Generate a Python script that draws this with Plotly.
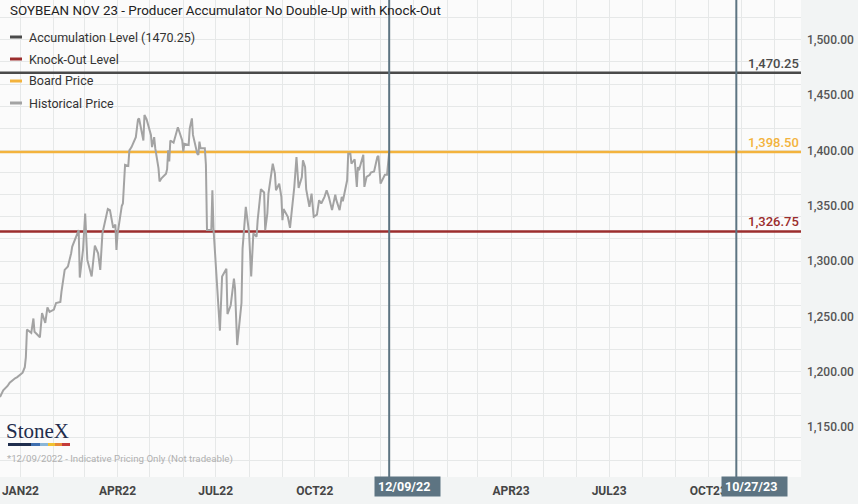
import plotly.graph_objects as go

title = "SOYBEAN NOV 23 - Producer Accumulator No Double-Up with Knock-Out"
footnote = "*12/09/2022 - Indicative Pricing Only (Not tradeable)"

pricing_date = "2022-12-09"
expiry_date = "2023-10-27"
pricing_label = "12/09/22"
expiry_label = "10/27/23"

accumulation_level = 1470.25
knock_out_level = 1326.75
board_price = 1398.50

x_range = ["2021-12-13", "2023-12-26"]
y_range = [1104.7, 1536]

# JAN23 sits under the pricing-date marker in the original, so it stays blank
month_ticks = ["2022-01-01", "2022-02-01", "2022-03-01", "2022-04-01", "2022-05-01", "2022-06-01",
               "2022-07-01", "2022-08-01", "2022-09-01", "2022-10-01", "2022-11-01", "2022-12-01",
               "2023-01-01", "2023-02-01", "2023-03-01", "2023-04-01", "2023-05-01", "2023-06-01",
               "2023-07-01", "2023-08-01", "2023-09-01", "2023-10-01", "2023-11-01", "2023-12-01"]
month_labels = ["JAN22", "", "", "APR22", "", "", "JUL22", "", "", "OCT22", "", "",
                "", "", "", "APR23", "", "", "JUL23", "", "", "OCT23", "", ""]

hist_dates = [
    "2021-12-13", "2021-12-16", "2021-12-20", "2021-12-22", "2021-12-27", "2021-12-29",
    "2022-01-03", "2022-01-05", "2022-01-06", "2022-01-07", "2022-01-11", "2022-01-13",
    "2022-01-14", "2022-01-19", "2022-01-21", "2022-01-24", "2022-01-26", "2022-01-28",
    "2022-02-01", "2022-02-03", "2022-02-07", "2022-02-08", "2022-02-11", "2022-02-14",
    "2022-02-17", "2022-02-18", "2022-02-24", "2022-02-25", "2022-02-28",
    "2022-03-02", "2022-03-04", "2022-03-08", "2022-03-11", "2022-03-14", "2022-03-16",
    "2022-03-18", "2022-03-23", "2022-03-25", "2022-03-28", "2022-03-30", "2022-03-31",
    "2022-04-01", "2022-04-05", "2022-04-06", "2022-04-08", "2022-04-11", "2022-04-12",
    "2022-04-14", "2022-04-18", "2022-04-20", "2022-04-21", "2022-04-25", "2022-04-26", "2022-04-28",
    "2022-05-02", "2022-05-03", "2022-05-05", "2022-05-06", "2022-05-09", "2022-05-10",
    "2022-05-12", "2022-05-16", "2022-05-17", "2022-05-18", "2022-05-19", "2022-05-20",
    "2022-05-23", "2022-05-27", "2022-05-31",
    "2022-06-01", "2022-06-02", "2022-06-06", "2022-06-07", "2022-06-09", "2022-06-10",
    "2022-06-14", "2022-06-15", "2022-06-16", "2022-06-17", "2022-06-21", "2022-06-22",
    "2022-06-23", "2022-06-27", "2022-06-28", "2022-06-29",
    "2022-07-01", "2022-07-05", "2022-07-07", "2022-07-11", "2022-07-12", "2022-07-15",
    "2022-07-18", "2022-07-19", "2022-07-21", "2022-07-25", "2022-07-26", "2022-07-29",
    "2022-08-01", "2022-08-03", "2022-08-05", "2022-08-08", "2022-08-09", "2022-08-12",
    "2022-08-15", "2022-08-16", "2022-08-18", "2022-08-19", "2022-08-23", "2022-08-25",
    "2022-08-26", "2022-08-29", "2022-08-31",
    "2022-09-01", "2022-09-02", "2022-09-06", "2022-09-08", "2022-09-12", "2022-09-14",
    "2022-09-16", "2022-09-19", "2022-09-20", "2022-09-22", "2022-09-23", "2022-09-26",
    "2022-09-28", "2022-09-30",
    "2022-10-03", "2022-10-05", "2022-10-07", "2022-10-10", "2022-10-12", "2022-10-14",
    "2022-10-17", "2022-10-20", "2022-10-21", "2022-10-24", "2022-10-26", "2022-10-27", "2022-10-31",
    "2022-11-01", "2022-11-03", "2022-11-04", "2022-11-07", "2022-11-09", "2022-11-10",
    "2022-11-11", "2022-11-15", "2022-11-16", "2022-11-18", "2022-11-21", "2022-11-22",
    "2022-11-25", "2022-11-28", "2022-11-29",
    "2022-12-01", "2022-12-05", "2022-12-07", "2022-12-09",
]
hist_prices = [
    1177, 1183, 1187, 1190, 1194, 1195,
    1199, 1204, 1213, 1238, 1235, 1248, 1236, 1231, 1253, 1244, 1258, 1254,
    1256, 1262, 1263, 1272, 1292, 1295, 1307, 1313, 1328, 1285, 1310,
    1343, 1301, 1286, 1314, 1307, 1292, 1325, 1347, 1346, 1330, 1333, 1310,
    1324, 1350, 1352, 1387, 1386, 1400, 1403, 1412, 1428, 1429, 1409, 1432, 1428,
    1414, 1403, 1412, 1402, 1384, 1372, 1375, 1379, 1383, 1400, 1390, 1409, 1407, 1421, 1409,
    1399, 1406, 1405, 1420, 1429, 1414, 1397, 1396, 1408, 1402, 1402, 1387, 1328, 1328, 1364, 1330,
    1300, 1237, 1286, 1293, 1252, 1260, 1284, 1275, 1224, 1262, 1311, 1349,
    1326, 1286, 1325, 1322, 1337, 1365, 1362, 1328, 1343, 1361, 1388, 1379, 1364, 1370, 1358,
    1337, 1347, 1340, 1330, 1367, 1394, 1366, 1376, 1391, 1385, 1365, 1349, 1361, 1340,
    1342, 1355, 1352, 1358, 1364, 1358, 1346, 1360, 1355, 1346, 1358, 1354, 1373,
    1397, 1397, 1388, 1392, 1367, 1385, 1382, 1396, 1367, 1376, 1378, 1380, 1381, 1394, 1395,
    1370, 1378, 1378, 1398.5,
]

DARK = "#4a4a4a"
RED = "#9b2d2d"
ORANGE = "#f3b33d"
HIST = "#a3a3a3"
SLATE = "#5d7482"
GRID = "#e6e8e8"

# plot area size in px, used to place the paper-anchored extras
PW, PH = 801, 477

fig = go.Figure()

levels = [
    ("Accumulation Level (1470.25)", accumulation_level, DARK),
    ("Knock-Out Level", knock_out_level, RED),
    ("Board Price", board_price, ORANGE),
]
for name, lvl, col in levels:
    fig.add_trace(go.Scatter(x=x_range, y=[lvl, lvl], mode="lines", name=name,
                             line=dict(color=col, width=2.5), showlegend=False,
                             hoverinfo="skip"))
    fig.add_annotation(x=1, xref="paper", y=lvl, yref="y", xanchor="right", yanchor="bottom",
                       text=f"{lvl:,.2f}", showarrow=False,
                       font=dict(family="Roboto", size=13, color=col, weight=500))

fig.add_trace(go.Scatter(x=hist_dates, y=hist_prices, mode="lines", name="Historical Price",
                         line=dict(color=HIST, width=2), showlegend=False, yaxis="y2"))

for d, lab in [(pricing_date, pricing_label), (expiry_date, expiry_label)]:
    fig.add_shape(type="line", x0=d, x1=d, xref="x", y0=0, y1=1, yref="paper",
                  line=dict(color=SLATE, width=2), layer="above")
    fig.add_annotation(x=d, xref="x", y=0, yref="paper", xanchor="left", yanchor="top",
                       xshift=-15, yshift=1, text=f"<b>{lab}</b>", showarrow=False,
                       bgcolor=SLATE, borderpad=3, width=59, height=13, align="left",
                       font=dict(family="Roboto", size=12.5, color="white"))

# legend drawn by hand: short stubs like the original
legend_items = [(name, col) for name, _, col in levels] + [("Historical Price", HIST)]
for i, (name, col) in enumerate(legend_items):
    yy = 1 - (37 + 22 * i) / PH
    fig.add_shape(type="line", xref="paper", yref="paper", x0=10 / PW, x1=22 / PW,
                  y0=yy, y1=yy, line=dict(color=col, width=3))
    fig.add_annotation(x=27 / PW, xref="paper", y=yy, yref="paper", xanchor="left",
                       yanchor="middle", text=name, showarrow=False,
                       font=dict(family="Roboto", size=12.5, color="#333333"))

# title, footnote, logo
fig.add_annotation(x=8 / PW, xref="paper", y=1 - 11 / PH, yref="paper", xanchor="left",
                   yanchor="middle", text=title, showarrow=False,
                   font=dict(family="Roboto", size=13.4, color="#222222"))
fig.add_annotation(x=5 / PW, xref="paper", y=1 - 459 / PH, yref="paper", xanchor="left",
                   yanchor="middle", text=footnote, showarrow=False,
                   font=dict(family="Roboto", size=9.7, color="#b0b0b0"))
fig.add_annotation(x=4 / PW, xref="paper", y=1 - 431 / PH, yref="paper", xanchor="left",
                   yanchor="middle", text="StoneX", showarrow=False,
                   font=dict(family="Liberation Serif", size=21, color="#1f2d4d"))
logo_bar = [(8, 31, "#1f2d4d"), (31, 40, "#3f6fb0"), (40, 48, "#8ab6d8"),
            (48, 55, "#f0c232"), (55, 62, "#e88a3a"), (62, 70, "#c43a3a")]
for a, b, c in logo_bar:
    fig.add_shape(type="rect", xref="paper", yref="paper", x0=a / PW, x1=b / PW,
                  y0=1 - 446 / PH, y1=1 - 443 / PH, fillcolor=c, line=dict(width=0))

fig.update_layout(
    width=858, height=504,
    margin=dict(l=0, r=57, t=0, b=27),
    paper_bgcolor="#f2f4f4",
    plot_bgcolor="#fbfbfb",
    showlegend=False,
    xaxis=dict(range=x_range, type="date", tickvals=month_ticks, ticktext=month_labels,
               showgrid=True, gridcolor=GRID, gridwidth=1, zeroline=False, ticks="",
               showline=False, ticklabelstandoff=5,
               tickfont=dict(family="Roboto", size=12, color="#454545", weight=700)),
    yaxis=dict(range=y_range, dtick=20, tick0=0, showticklabels=False, showgrid=True,
               gridcolor=GRID, gridwidth=1, zeroline=False, side="right", ticks=""),
    yaxis2=dict(range=y_range, overlaying="y", side="right", dtick=50, tick0=0,
                tickformat=",.2f", showgrid=False, zeroline=False, ticks="",
                ticklabelstandoff=5,
                tickfont=dict(family="Roboto", size=12, color="#555555", weight=500)),
    hovermode=False,
)

fig.write_html("out.html", config={"displayModeBar": False},
               post_script="document.body.style.margin='0';")
